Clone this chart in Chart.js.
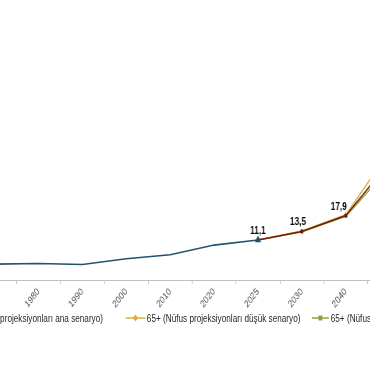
<!DOCTYPE html>
<html>
<head>
<meta charset="utf-8">
<script src="https://cdn.jsdelivr.net/npm/chart.js@4/dist/chart.umd.min.js"></script>
<style>
  html, body { margin: 0; padding: 0; background: #fff; }
  #frame { position: relative; width: 370px; height: 380px; overflow: hidden; background: #fff; }
  /* the source picture is squeezed horizontally, so the whole chart is drawn wide and scaled down */
  #wide { position: absolute; left: 0; top: 0; width: 808px; height: 380px;
          transform: translateX(-210.8px) scaleX(0.78); transform-origin: 0 0; }
  #wide canvas { position: absolute; left: 0; top: 0; }
  .leg { position: absolute; top: 311px; height: 14px; display: flex; align-items: center;
         font: 10.5px "Liberation Sans", Arial, sans-serif; color: #262626; white-space: nowrap; }
  .leg svg { display: block; margin-right: 2px; }
</style>
</head>
<body>
<div id="frame">
  <div id="wide">
    <canvas id="chart" width="808" height="380"></canvas>
    <div class="leg" style="right: 405.7px;">
      <svg width="26" height="8"><line x1="0" y1="4" x2="26" y2="4" stroke="#6e1c10" stroke-width="1.5"/><rect x="10" y="1.5" width="5" height="5" fill="#6e1c10"/></svg>
      <span>65+ (Nüfus projeksiyonları ana senaryo)</span>
    </div>
    <div class="leg" style="left: 430.5px;">
      <svg width="26" height="8"><line x1="0" y1="4" x2="26" y2="4" stroke="#ddae3a" stroke-width="1.5"/><polygon points="13,0.5 16.5,4 13,7.5 9.5,4" fill="#ddae3a"/></svg>
      <span>65+ (Nüfus projeksiyonları düşük senaryo)</span>
    </div>
    <div class="leg" style="left: 670.3px;">
      <svg width="22" height="8"><line x1="0" y1="4" x2="22" y2="4" stroke="#86a83a" stroke-width="1.5"/><rect x="8.5" y="1.5" width="5" height="5" fill="#86a83a"/></svg>
      <span>65+ (Nüfus projeksiyonları yüksek senaryo)</span>
    </div>
  </div>
</div>
<script>
// categories (equal spacing, as in the source)
const years = ['1935', '1940', '1950', '1960', '1970', '1980', '1990', '2000', '2010', '2020', '2025', '2030', '2040', '2060'];

// share of population aged 65+ (%)
const observed = [3.9, 3.9, 3.3, 3.7, 4.4, 4.6, 4.3, 5.9, 7.0, 9.7, 11.1, null, null, null];
const mainScenario = [null, null, null, null, null, null, null, null, null, null, 11.1, 13.5, 17.9, 32.8];
const lowScenario = [null, null, null, null, null, null, null, null, null, null, 11.1, 13.6, 18.1, 35.8];
const highScenario = [null, null, null, null, null, null, null, null, null, null, 11.1, 13.4, 17.7, 31.3];

// years that carry a value label
const labelYears = ['2025', '2030', '2040'];
const labelShift = [0, -5, -9];

const fontFamily = '"Liberation Sans", Arial, sans-serif';

const valueLabels = {
  id: 'valueLabels',
  afterDatasetsDraw(chart) {
    const ctx = chart.ctx;
    const meta = chart.getDatasetMeta(1);
    ctx.save();
    ctx.font = 'bold 10.5px ' + fontFamily;
    ctx.fillStyle = '#000';
    ctx.textAlign = 'center';
    ctx.textBaseline = 'alphabetic';
    labelYears.forEach((y, i) => {
      const idx = years.indexOf(y);
      const pt = meta.data[idx];
      const txt = mainScenario[idx].toFixed(1).replace('.', ',');
      ctx.fillText(txt, pt.x + labelShift[i], pt.y - 6);
    });
    ctx.restore();
  }
};

new Chart(document.getElementById('chart'), {
  type: 'line',
  data: {
    labels: years,
    datasets: [
      {
        label: '65+',
        data: observed,
        borderColor: '#1f5273',
        backgroundColor: '#1f5273',
        borderWidth: 1.6,
        pointRadius: observed.map((v, i) => (years[i] === '2025' ? 3 : 0)),
        pointStyle: 'triangle',
        tension: 0
      },
      {
        label: '65+ (Nüfus projeksiyonları ana senaryo)',
        data: mainScenario,
        borderColor: '#6e1c10',
        backgroundColor: '#6e1c10',
        borderWidth: 1.5,
        pointRadius: 1.5,
        pointStyle: 'rect',
        tension: 0
      },
      {
        label: '65+ (Nüfus projeksiyonları düşük senaryo)',
        data: lowScenario,
        borderColor: '#ddae3a',
        backgroundColor: '#ddae3a',
        borderWidth: 1.5,
        pointRadius: 1.5,
        pointStyle: 'rectRot',
        tension: 0
      },
      {
        label: '65+ (Nüfus projeksiyonları yüksek senaryo)',
        data: highScenario,
        borderColor: '#86a83a',
        backgroundColor: '#86a83a',
        borderWidth: 1.5,
        pointRadius: 1.5,
        pointStyle: 'rect',
        tension: 0
      }
    ]
  },
  options: {
    responsive: false,
    animation: false,
    spanGaps: false,
    layout: { padding: { left: 10, right: 10, top: 136, bottom: 0 } },
    plugins: {
      legend: { display: false },
      tooltip: { enabled: false }
    },
    scales: {
      x: {
        offset: true,
        grid: { offset: true, drawOnChartArea: false, tickLength: 4, color: '#bfbfbf' },
        border: { color: '#bfbfbf', width: 1 },
        ticks: {
          autoSkip: false,
          minRotation: 45,
          maxRotation: 45,
          padding: 2,
          color: '#4d4d4d',
          font: { family: fontFamily, size: 10 }
        },
        afterFit(scale) { scale.height = 100; }
      },
      y: { display: false, min: 0, max: 40 }
    }
  },
  plugins: [valueLabels]
});
</script>
</body>
</html>
